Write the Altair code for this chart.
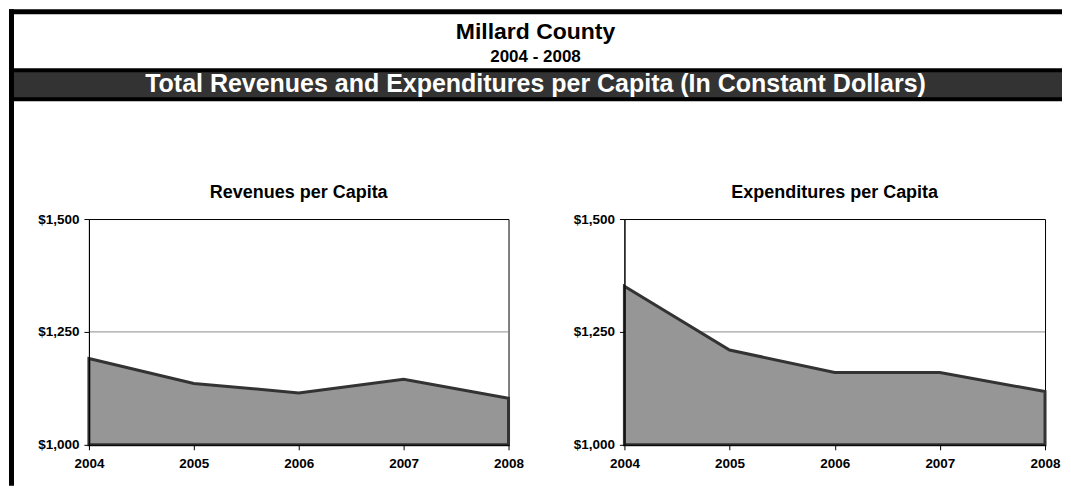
import altair as alt
import pandas as pd

# ---- data ----
years = [2004, 2005, 2006, 2007, 2008]
revenues = [1191, 1136, 1115, 1145, 1103]
expenditures = [1351, 1210, 1160, 1160, 1118]
y_ticks = [1000, 1250, 1500]
grid_values = [1250]
main_title = "Millard County"
sub_title = "2004 - 2008"
banner_title = "Total Revenues and Expenditures per Capita (In Constant Dollars)"
panel_titles = ["Revenues per Capita", "Expenditures per Capita"]

FONT = "Liberation Sans"
W_L, W_R, H = 420, 421, 226
one = pd.DataFrame({"k": [0]})


def xenc():
    return alt.X(
        "year:Q",
        scale=alt.Scale(domain=[years[0], years[-1]], nice=False, zero=False),
        axis=alt.Axis(values=years, format="d", title=None, grid=False,
                      labelFlush=False, labelPadding=7, tickSize=5, zindex=1),
    )


def yenc():
    return alt.Y(
        "value:Q",
        scale=alt.Scale(domain=[1000, 1500], nice=False, zero=False),
        axis=alt.Axis(values=y_ticks, format="$,.0f", title=None, grid=False,
                      labelPadding=5, tickSize=5, zindex=1),
    )


def panel(values, title, width):
    df = pd.DataFrame({"year": years, "value": values,
                       "base": [y_ticks[0]] * len(years)})
    gdf = pd.DataFrame({"value": grid_values})
    grid = alt.Chart(gdf).mark_rule(color="#8c8c8c", strokeWidth=1).encode(y=yenc())
    area = alt.Chart(df).mark_area(
        fill="#969696", stroke="#333333", strokeWidth=3, fillOpacity=1
    ).encode(x=xenc(), y=yenc(), y2="base:Q")
    ttl = alt.Chart(one).mark_text(
        text=title, font=FONT, fontWeight="bold", fontSize=18,
        align="center", baseline="alphabetic", color="black"
    ).encode(x=alt.value(width / 2), y=alt.value(-21))
    return grid, area, ttl


def rect(x1, x2, y1, y2, color):
    return alt.Chart(one).mark_rect(color=color, opacity=1).encode(
        x=alt.value(x1), x2=alt.value(x2), y=alt.value(y1), y2=alt.value(y2))


def text(t, x, y, size, color="black", font=FONT):
    return alt.Chart(one).mark_text(
        text=t, font=font, fontWeight="bold", fontSize=size,
        align="center", baseline="alphabetic", color=color
    ).encode(x=alt.value(x), y=alt.value(y))


# decorations, positioned relative to the left plot area (page x-88, y-218)
deco = [
    rect(-80, -75, -210, 267, "black"),          # left border
    rect(-80, 974, -210, -205, "black"),         # top border
    rect(-75, 974, -151, -118, "black"),         # banner frame
    rect(-75, 974, -147, -122, "#333333"),       # banner fill
    text(main_title, 447, -180, 23),
    text(sub_title, 447, -157, 17),
    text(banner_title, 447, -127.5, 25, "white"),
]

g1, a1, t1 = panel(revenues, panel_titles[0], W_L)
g2, a2, t2 = panel(expenditures, panel_titles[1], W_R)

left = alt.layer(*deco, g1, a1, t1).properties(width=W_L, height=H)
right = alt.layer(g2, a2, t2).properties(width=W_R, height=H)

chart = (
    alt.hconcat(left, right, spacing=116, bounds="flush")
    .properties(padding=0, background="white")
    .configure_view(stroke="black", strokeWidth=1)
    .configure_axis(
        domainColor="black", tickColor="black", domainWidth=1, tickWidth=1,
        labelFont=FONT, labelFontWeight="bold", labelFontSize=13.5,
        labelColor="black",
    )
)

chart.save("out.html", embed_options={"renderer": "svg", "actions": False})
